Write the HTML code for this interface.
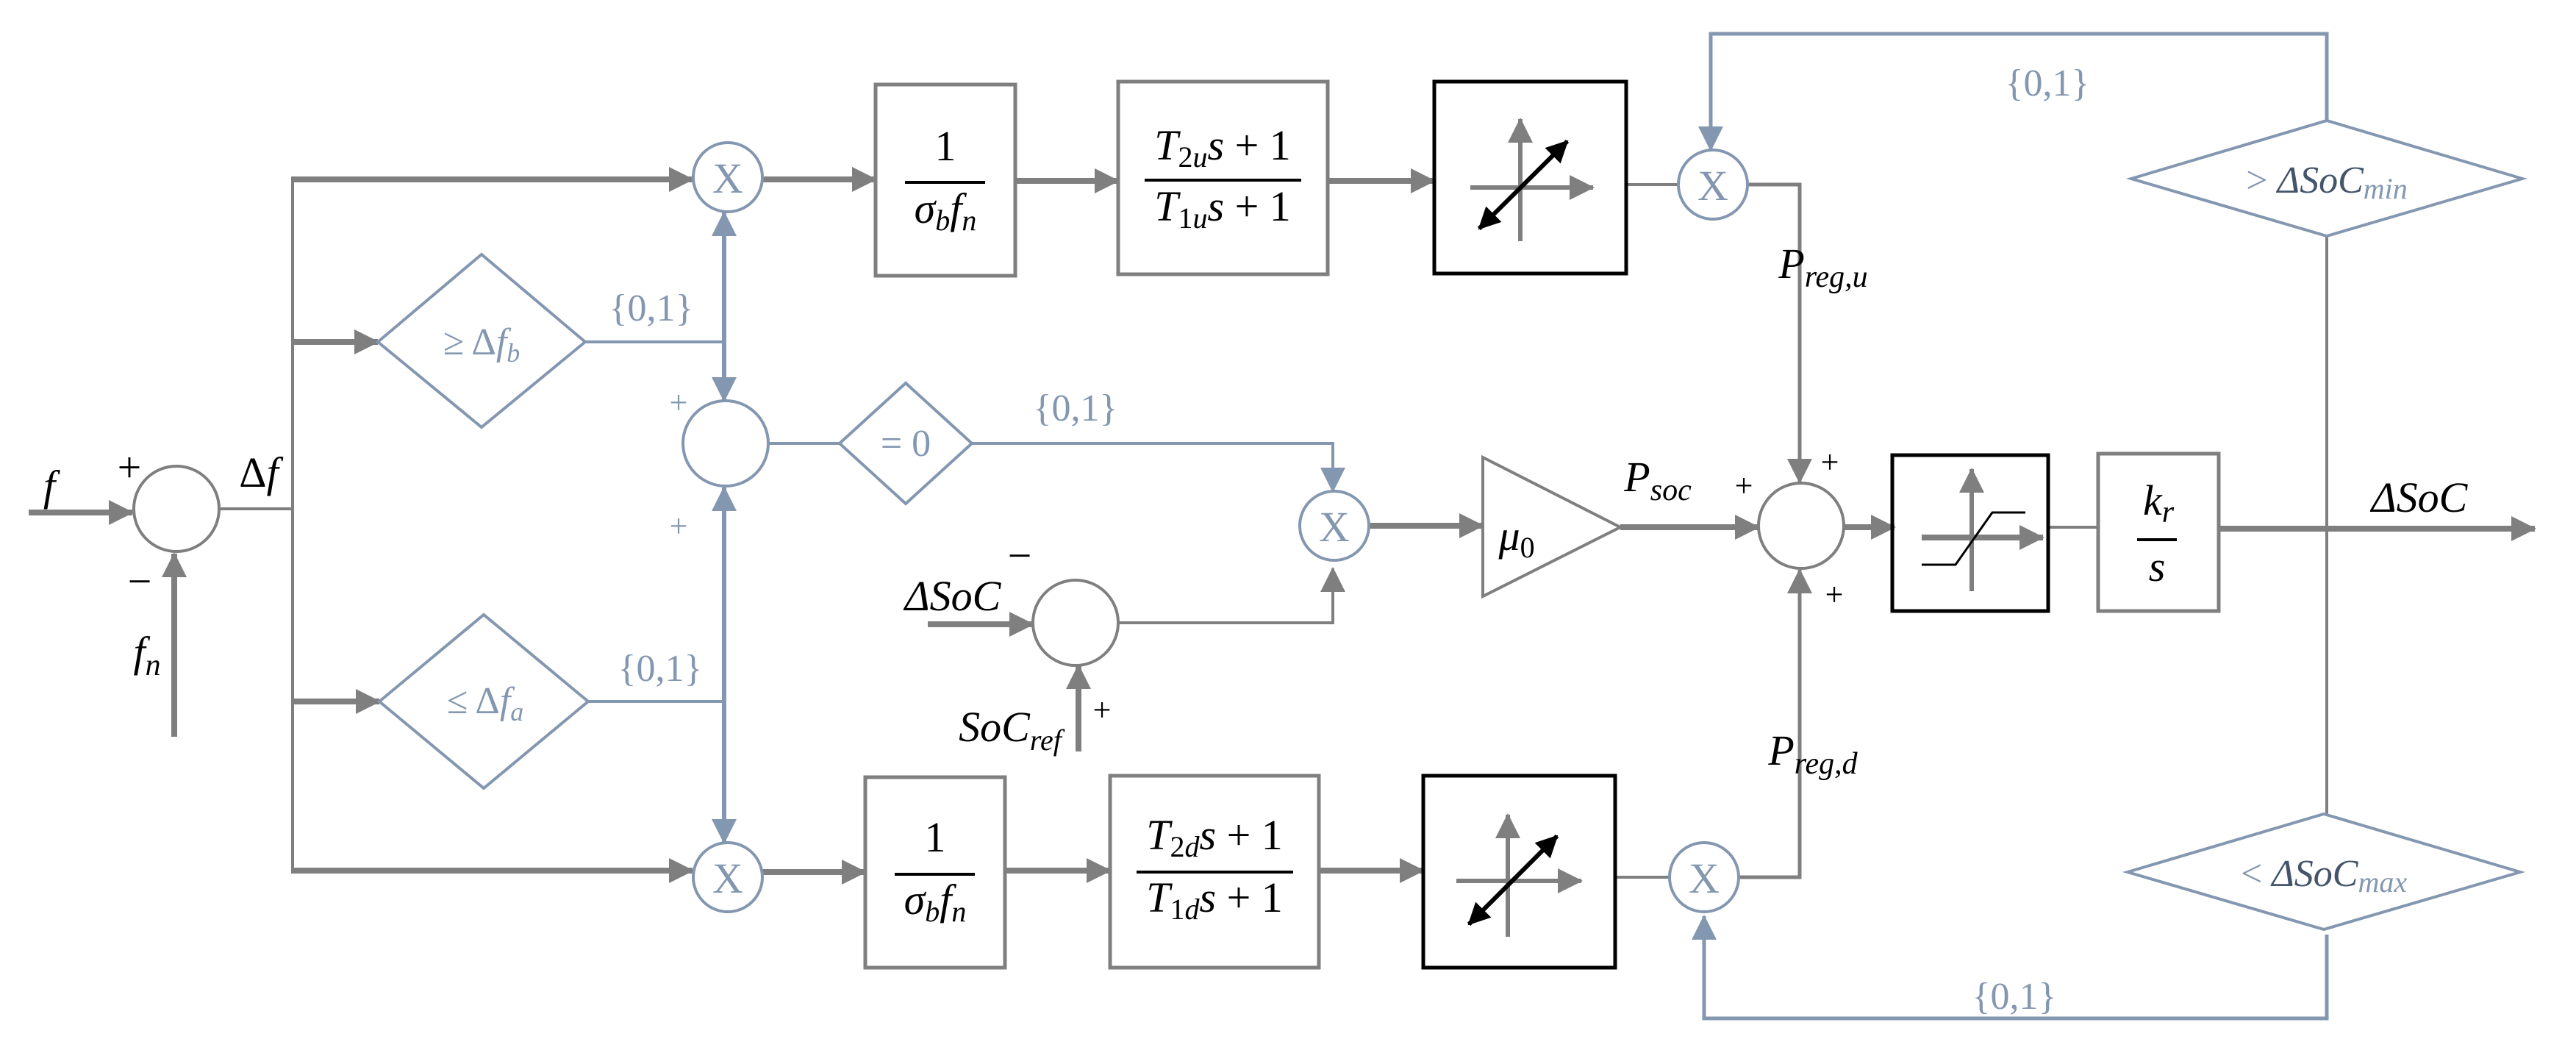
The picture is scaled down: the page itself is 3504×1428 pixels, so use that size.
<!DOCTYPE html>
<html><head><meta charset="utf-8"><style>
html,body{margin:0;padding:0;background:#fff;}
svg{display:block;}
text{font-family:"Liberation Serif",serif;}
.m{font-style:italic;fill:#000;}
.b{fill:#8497b0;}
</style></head><body>
<svg width="3504" height="1428" viewBox="0 0 3504 1428" xmlns="http://www.w3.org/2000/svg">
<defs>
<marker id="ag" markerUnits="userSpaceOnUse" markerWidth="34" markerHeight="34" refX="32" refY="17" orient="auto"><path d="M0,0 L34,17 L0,34 z" fill="#7f7f7f"/></marker>
<marker id="ab" markerUnits="userSpaceOnUse" markerWidth="34" markerHeight="34" refX="32" refY="17" orient="auto"><path d="M0,0 L34,17 L0,34 z" fill="#8497b0"/></marker>
<marker id="ak" markerUnits="userSpaceOnUse" markerWidth="30" markerHeight="30" refX="28" refY="15" orient="auto"><path d="M0,0 L30,15 L0,30 z" fill="#000"/></marker>
<marker id="aks" markerUnits="userSpaceOnUse" markerWidth="30" markerHeight="30" refX="2" refY="15" orient="auto"><path d="M30,0 L0,15 L30,30 z" fill="#000"/></marker>
</defs>

<g fill="none" stroke="#7f7f7f">
<line x1="39" y1="697" x2="180" y2="697" stroke-width="8" marker-end="url(#ag)"/>
<line x1="237" y1="1002" x2="237" y2="753" stroke-width="8" marker-end="url(#ag)"/>
<circle cx="240" cy="692" r="58" stroke-width="4"/>
<line x1="298" y1="692" x2="398" y2="692" stroke-width="4"/>
<line x1="398" y1="244" x2="398" y2="1186" stroke-width="4"/>
<line x1="396" y1="244" x2="942" y2="244" stroke-width="8" marker-end="url(#ag)"/>
<line x1="396" y1="1184" x2="942" y2="1184" stroke-width="8" marker-end="url(#ag)"/>
<line x1="398" y1="465" x2="514" y2="465" stroke-width="8" marker-end="url(#ag)"/>
<line x1="398" y1="954" x2="516" y2="954" stroke-width="8" marker-end="url(#ag)"/>
<line x1="1037" y1="244" x2="1191" y2="244" stroke-width="8" marker-end="url(#ag)"/>
<rect x="1191" y="115" width="190" height="260" stroke-width="5"/>
<line x1="1381" y1="246" x2="1521" y2="246" stroke-width="8" marker-end="url(#ag)"/>
<rect x="1521" y="111" width="285" height="262" stroke-width="5"/>
<line x1="1806" y1="246" x2="1951" y2="246" stroke-width="8" marker-end="url(#ag)"/>
<line x1="2212" y1="251" x2="2283" y2="251" stroke-width="4"/>
<polyline points="2377,251 2448,251 2448,656" stroke-width="5" marker-end="url(#ag)"/>
<line x1="1037" y1="1186" x2="1177" y2="1186" stroke-width="8" marker-end="url(#ag)"/>
<rect x="1177" y="1057" width="190" height="259" stroke-width="5"/>
<line x1="1367" y1="1184" x2="1510" y2="1184" stroke-width="8" marker-end="url(#ag)"/>
<rect x="1510" y="1055" width="284" height="261" stroke-width="5"/>
<line x1="1794" y1="1184" x2="1936" y2="1184" stroke-width="8" marker-end="url(#ag)"/>
<line x1="2197" y1="1193" x2="2271" y2="1193" stroke-width="4"/>
<polyline points="2365,1193 2448,1193 2448,775" stroke-width="5" marker-end="url(#ag)"/>
<line x1="1262" y1="849" x2="1405" y2="849" stroke-width="8" marker-end="url(#ag)"/>
<line x1="1467" y1="1022" x2="1467" y2="905" stroke-width="8" marker-end="url(#ag)"/>
<circle cx="1463" cy="847" r="58" stroke-width="4"/>
<polyline points="1521,847 1813,847 1813,773" stroke-width="4" marker-end="url(#ag)"/>
<line x1="1862" y1="715" x2="2017" y2="715" stroke-width="8" marker-end="url(#ag)"/>
<polygon points="2017,622 2204,717 2017,811" stroke-width="4"/>
<line x1="2204" y1="717" x2="2392" y2="717" stroke-width="8" marker-end="url(#ag)"/>
<circle cx="2450" cy="715" r="58" stroke-width="4"/>
<line x1="2508" y1="717" x2="2577" y2="717" stroke-width="8" marker-end="url(#ag)"/>
<line x1="2786" y1="717" x2="2854" y2="717" stroke-width="4"/>
<rect x="2854" y="617" width="164" height="214" stroke-width="5"/>
<line x1="3018" y1="719" x2="3448" y2="719" stroke-width="8" marker-end="url(#ag)"/>
<line x1="3165" y1="321" x2="3165" y2="1107" stroke-width="4"/>
<line x1="2068" y1="328" x2="2068" y2="162" stroke-width="6" marker-end="url(#ag)"/>
<line x1="2000" y1="255" x2="2167" y2="255" stroke-width="6" marker-end="url(#ag)"/>
<line x1="2051" y1="1274" x2="2051" y2="1108" stroke-width="6" marker-end="url(#ag)"/>
<line x1="1981" y1="1198" x2="2151" y2="1198" stroke-width="6" marker-end="url(#ag)"/>
<line x1="2682" y1="804" x2="2682" y2="638" stroke-width="6" marker-end="url(#ag)"/>
<line x1="2614" y1="731" x2="2779" y2="731" stroke-width="8" marker-end="url(#ag)"/>
</g>

<g fill="none" stroke="#000">
<rect x="1951" y="111" width="261" height="261" stroke-width="5"/>
<rect x="1936" y="1055" width="261" height="261" stroke-width="5"/>
<rect x="2574" y="619" width="212" height="212" stroke-width="5"/>
<line x1="2012" y1="311" x2="2132" y2="192" stroke-width="6" marker-start="url(#aks)" marker-end="url(#ak)"/>
<line x1="1998" y1="1257" x2="2118" y2="1137" stroke-width="6" marker-start="url(#aks)" marker-end="url(#ak)"/>
<polyline points="2614,768 2660,768 2710,697 2755,697" stroke-width="3"/>
</g>

<g fill="none" stroke="#8497b0">
<circle cx="990" cy="241" r="47" stroke-width="4"/>
<circle cx="987" cy="603" r="58" stroke-width="4"/>
<circle cx="990" cy="1193" r="47" stroke-width="4"/>
<circle cx="1815" cy="715" r="47" stroke-width="4"/>
<circle cx="2330" cy="251" r="47" stroke-width="4"/>
<circle cx="2318" cy="1193" r="47" stroke-width="4"/>
<polygon points="514,465 655,346 796,465 655,581" stroke-width="4"/>
<polygon points="516,954 658,836 800,954 658,1072" stroke-width="4"/>
<polygon points="1142,603 1232,521 1322,603 1232,685" stroke-width="4"/>
<polygon points="2899,243 3165,164 3431,243 3165,321" stroke-width="4"/>
<polygon points="2894,1186 3161,1107 3428,1186 3161,1264" stroke-width="4"/>
<line x1="796" y1="465" x2="985" y2="465" stroke-width="4"/>
<line x1="800" y1="954" x2="985" y2="954" stroke-width="4"/>
<line x1="985" y1="465" x2="985" y2="289" stroke-width="6" marker-end="url(#ab)"/>
<line x1="985" y1="465" x2="985" y2="545" stroke-width="6" marker-end="url(#ab)"/>
<line x1="985" y1="1000" x2="985" y2="663" stroke-width="6" marker-end="url(#ab)"/>
<line x1="985" y1="900" x2="985" y2="1146" stroke-width="6" marker-end="url(#ab)"/>
<line x1="1045" y1="603" x2="1142" y2="603" stroke-width="4"/>
<polyline points="1322,603 1813,603 1813,668" stroke-width="4" marker-end="url(#ab)"/>
<polyline points="3165,164 3165,46 2327,46 2327,204" stroke-width="5" marker-end="url(#ab)"/>
<polyline points="3165,1271 3165,1385 2318,1385 2318,1246" stroke-width="5" marker-end="url(#ab)"/>
</g>

<g class="b" font-size="58" text-anchor="middle">
<text x="990" y="262">X</text>
<text x="990" y="1214">X</text>
<text x="1815" y="736">X</text>
<text x="2330" y="272">X</text>
<text x="2318" y="1214">X</text>
</g>

<g class="b" font-size="52" text-anchor="middle">
<text x="886" y="436">{0,1}</text>
<text x="898" y="926">{0,1}</text>
<text x="1463" y="572">{0,1}</text>
<text x="2785" y="130">{0,1}</text>
<text x="2740" y="1372">{0,1}</text>
<text x="655" y="482">≥ Δ<tspan font-style="italic">f</tspan><tspan font-style="italic" font-size="36" dy="10">b</tspan></text>
<text x="660" y="970">≤ Δ<tspan font-style="italic">f</tspan><tspan font-style="italic" font-size="36" dy="10">a</tspan></text>
<text x="1232" y="620">= 0</text>
<text x="3165" y="262">&gt; <tspan font-style="italic" fill="#44546a">ΔSoC</tspan><tspan font-style="italic" font-size="40" dy="8">min</tspan></text>
<text x="3161" y="1205">&lt; <tspan font-style="italic" fill="#44546a">ΔSoC</tspan><tspan font-style="italic" font-size="40" dy="8">max</tspan></text>
</g>
<g font-size="44" text-anchor="middle" class="b">
<text x="923" y="562">+</text>
<text x="923" y="730">+</text>
</g>

<g font-size="58" text-anchor="middle" fill="#000">
<text x="67" y="680" class="m">f</text>
<text x="176" y="655">+</text>
<text x="190" y="810">−</text>
<text x="200" y="906" class="m">f<tspan font-size="42" dy="12">n</tspan></text>
<text x="352" y="662">Δ<tspan font-style="italic">f</tspan></text>
<text x="1286" y="218">1</text>
<text x="1286" y="303" class="m">σ<tspan font-size="40" dy="10">b</tspan><tspan dy="-10">f</tspan><tspan font-size="40" dy="10">n</tspan></text>
<text x="1272" y="1158">1</text>
<text x="1272" y="1243" class="m">σ<tspan font-size="40" dy="10">b</tspan><tspan dy="-10">f</tspan><tspan font-size="40" dy="10">n</tspan></text>
<text x="1663" y="217"><tspan font-style="italic">T</tspan><tspan font-size="40" dy="10">2<tspan font-style="italic">u</tspan></tspan><tspan font-style="italic" dy="-10">s</tspan> + 1</text>
<text x="1663" y="300"><tspan font-style="italic">T</tspan><tspan font-size="40" dy="10">1<tspan font-style="italic">u</tspan></tspan><tspan font-style="italic" dy="-10">s</tspan> + 1</text>
<text x="1652" y="1155"><tspan font-style="italic">T</tspan><tspan font-size="40" dy="10">2<tspan font-style="italic">d</tspan></tspan><tspan font-style="italic" dy="-10">s</tspan> + 1</text>
<text x="1652" y="1240"><tspan font-style="italic">T</tspan><tspan font-size="40" dy="10">1<tspan font-style="italic">d</tspan></tspan><tspan font-style="italic" dy="-10">s</tspan> + 1</text>
<text x="1374" y="1008" class="m">SoC<tspan font-size="40" dy="12">ref</tspan></text>
<text x="1296" y="830" class="m" fill="#44546a">ΔSoC</text>
<text x="1387" y="775">−</text>
<text x="1499" y="980" font-size="44">+</text>
<text x="2063" y="748" class="m">μ<tspan font-style="normal" font-size="40" dy="10">0</tspan></text>
<text x="2255" y="668" class="m">P<tspan font-size="42" dy="12">soc</tspan></text>
<text x="2372" y="675" font-size="44">+</text>
<text x="2489" y="643" font-size="44">+</text>
<text x="2495" y="823" font-size="44">+</text>
<text x="2480" y="378" class="m">P<tspan font-size="42" dy="12">reg,u</tspan></text>
<text x="2466" y="1040" class="m">P<tspan font-size="42" dy="12">reg,d</tspan></text>
<text x="2936" y="700" class="m">k<tspan font-size="42" dy="10">r</tspan></text>
<text x="2934" y="790" class="m">s</text>
<text x="3291" y="696" class="m" fill="#44546a">ΔSoC</text>
</g>
<g stroke="#000" stroke-width="4">
<line x1="1231" y1="248" x2="1340" y2="248"/>
<line x1="1217" y1="1189" x2="1326" y2="1189"/>
<line x1="1557" y1="245" x2="1770" y2="245"/>
<line x1="1546" y1="1186" x2="1759" y2="1186"/>
<line x1="2907" y1="734" x2="2961" y2="734"/>
</g>
</svg>
</body></html>
